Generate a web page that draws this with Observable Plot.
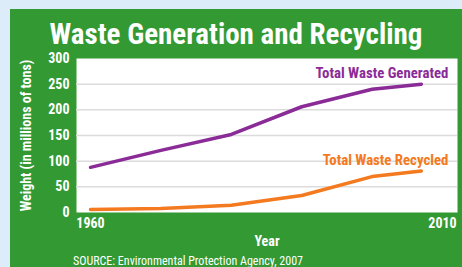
<!DOCTYPE html>
<html><head><meta charset="utf-8">
<script src="https://cdn.jsdelivr.net/npm/d3@7"></script>
<script src="https://cdn.jsdelivr.net/npm/@observablehq/plot@0.6"></script>
<style>
html,body{margin:0;padding:0;}
body{background:#dcedf9;width:462px;height:267px;overflow:hidden;position:relative;
 font-family:"Liberation Sans Narrow","Roboto Condensed","DejaVu Sans Condensed","Liberation Sans",sans-serif;}
#panel{position:absolute;left:10px;top:9px;width:452px;height:258px;background:#339933;}
#title{position:absolute;left:0;width:452px;top:8px;text-align:center;color:#fff;font-weight:bold;font-size:29px;line-height:34px;margin:0;}
#chart{position:absolute;left:0;top:41px;}
#source{position:absolute;left:63px;top:245px;color:#fff;font-size:12px;line-height:14px;}
</style></head>
<body>
<div id="panel">
  <h1 id="title">Waste Generation and Recycling</h1>
  <div id="chart"></div>
  <div id="source">SOURCE: Environmental Protection Agency, 2007</div>
</div>
<script>
const years = [1960, 1970, 1980, 1990, 2000, 2007];
const generated = [88, 121, 152, 206, 240, 250];
const recycled = [6, 8, 14, 33, 70, 81];
const yTicks = [0, 50, 100, 150, 200, 250, 300];
const gridLines = [50, 100, 150, 200, 250];
const xTicks = [1960, 2010];
const seriesNames = ["Total Waste Generated", "Total Waste Recycled"];
const seriesColors = ["#8a2b97", "#f47a20"];

const rows = [];
years.forEach((y, i) => {
  rows.push({year: y, value: generated[i], series: seriesNames[0]});
  rows.push({year: y, value: recycled[i], series: seriesNames[1]});
});
const lastRows = seriesNames.map((s, k) => ({
  year: years[years.length - 1],
  value: (k === 0 ? generated : recycled)[years.length - 1],
  series: s
}));

const chart = Plot.plot({
  width: 452,
  height: 200,
  marginLeft: 66,
  marginRight: 5,
  marginTop: 8,
  marginBottom: 38,
  style: {background: "transparent", color: "white", fontSize: "14px", fontWeight: "bold",
    fontFamily: '"Liberation Sans Narrow","Roboto Condensed","DejaVu Sans Condensed","Liberation Sans",sans-serif'},
  x: {domain: [1960, 2010], insetLeft: 14, insetRight: 15},
  y: {domain: [0, 300]},
  color: {domain: seriesNames, range: seriesColors},
  marks: [
    Plot.frame({fill: "white", stroke: null}),
    Plot.ruleY(gridLines, {stroke: "#dcdcdc", strokeWidth: 1.5}),
    Plot.axisY({ticks: yTicks, tickSize: 0, tickPadding: 7, tickFormat: d => String(d),
      label: "Weight (in millions of tons)", labelAnchor: "center", labelArrow: "none", labelOffset: 55, fontSize: 14}),
    Plot.axisX({ticks: xTicks, tickSize: 0, tickPadding: 6, tickFormat: d => String(d),
      label: "Year", labelAnchor: "center", labelArrow: "none", labelOffset: 33}),
    Plot.line(rows, {x: "year", y: "value", z: "series", stroke: "series", strokeWidth: 3.5, strokeLinejoin: "round"}),
    Plot.text(lastRows, {x: "year", y: "value", text: "series", fill: "series", textAnchor: "end", dx: 27, dy: -11, fontSize: 14.8, fontWeight: "bold"})
  ]
});
document.getElementById("chart").appendChild(chart);
</script>
</body></html>
